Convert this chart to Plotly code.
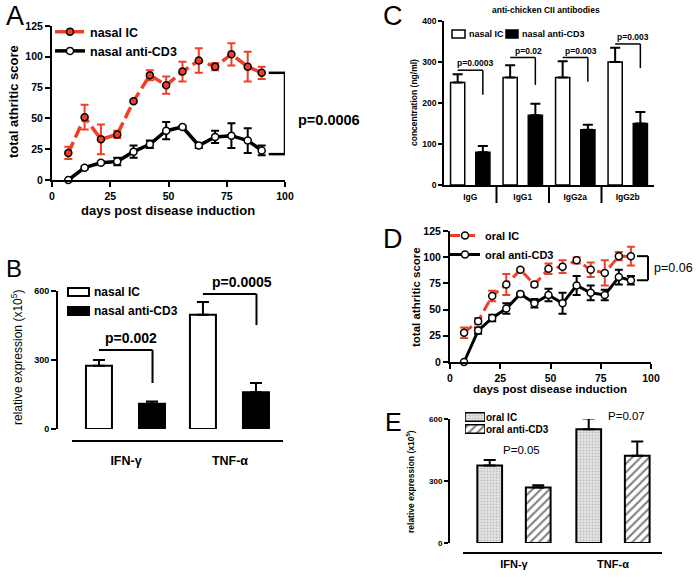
import plotly.graph_objects as go

W, H = 698, 577
FONT = "Arial, Liberation Sans, sans-serif"
RED = "#ee4028"

# A: nasal treatment, arthritis score
days = [7, 14, 21, 28, 35, 42, 49, 56, 63, 70, 77, 84, 90]
nasal_ic = [22, 51, 33, 37, 64, 85, 77, 88, 97, 92, 102, 92, 87]
nasal_ic_err = [5, 10, 12, 3, 1, 4, 7, 8, 10, 3, 9, 12, 5]
nasal_cd3 = [0, 10, 14, 15, 23, 29, 40, 43, 28, 35, 36, 32, 24]
nasal_cd3_err = [0, 1, 1, 3, 5, 3, 7, 1, 2, 5, 10, 10, 4]

# B: nasal, cytokine expression
cytokines = ["IFN-γ", "TNF-α"]
b_names = ["nasal IC", "nasal anti-CD3"]
b_ic = [275, 497]
b_ic_err = [25, 55]
b_cd3 = [110, 160]
b_cd3_err = [10, 40]
b_pvals = ["p=0.002", "p=0.0005"]
b_top = [343, 587]
b_bottom = [200, 452]

# C: anti-chicken CII antibodies
isotypes = ["IgG", "IgG1", "IgG2a", "IgG2b"]
c_ic = [250, 262, 262, 300]
c_ic_err = [20, 30, 40, 35]
c_cd3 = [80, 170, 135, 150]
c_cd3_err = [15, 28, 12, 28]
c_pvals = ["p=0.0003", "p=0.02", "p=0.003", "p=0.003"]
c_top = [280, 311, 311, 344]
c_bottom = [220, 244, 252, 285]

# D: oral treatment, arthritis score
oral_ic = [28, 39, 63, 74, 88, 74, 89, 91, 97, 88, 85, 101, 101]
oral_ic_err = [5, 3, 5, 10, 1, 2, 5, 6, 3, 7, 12, 4, 9]
oral_cd3 = [0, 30, 42, 51, 65, 56, 64, 56, 73, 66, 64, 81, 78]
oral_cd3_err = [0, 3, 3, 5, 1, 4, 6, 10, 9, 7, 5, 7, 4]

# E: oral, cytokine expression
e_names = ["oral IC", "oral anti-CD3"]
e_ic = [375, 551]
e_ic_err = [27, 51]
e_cd3 = [268, 422]
e_cd3_err = [12, 69]
e_pvals = ["P=0.05", "P=0.07"]


def fx(p):
    return p / W


def fy(p):
    return 1 - p / H


def f(size, bold=True):
    return dict(family=FONT, size=size, color="black", weight="bold" if bold else "normal")


def ax(size, **kw):
    d = dict(showline=True, linecolor="black", linewidth=2, ticks="outside", ticklen=5,
             tickwidth=2, tickcolor="black", showgrid=False, zeroline=False,
             tickfont=f(size), fixedrange=True)
    d.update(kw)
    return d


def err(a, color, up_only=False, w=4):
    e = dict(type="data", array=a, color=color, thickness=2, width=w, visible=True)
    if up_only:
        e.update(symmetric=False, arrayminus=[0] * len(a))
    return e


IC_PATTERN = dict(shape=".", fgcolor="#9a9a9a", bgcolor="#e4e4e4", size=3, solidity=0.3)
CD3_PATTERN = dict(shape="/", fgcolor="black", bgcolor="white", size=6, solidity=0.35)

fig = go.Figure()

# ---- A
fig.add_trace(go.Scatter(x=days, y=nasal_ic, name="nasal IC", mode="lines+markers",
                         line=dict(color=RED, width=3.5, dash="12px,5px"),
                         marker=dict(size=7, color=RED, line=dict(color="black", width=1.5)),
                         error_y=err(nasal_ic_err, RED), cliponaxis=False,
                         xaxis="x", yaxis="y", legend="legend"))
fig.add_trace(go.Scatter(x=days, y=nasal_cd3, name="nasal anti-CD3", mode="lines+markers",
                         line=dict(color="black", width=3.5),
                         marker=dict(size=7, color="white", line=dict(color="black", width=1.5)),
                         error_y=err(nasal_cd3_err, "black"), cliponaxis=False,
                         xaxis="x", yaxis="y", legend="legend"))

# ---- B
fig.add_trace(go.Bar(x=cytokines, y=b_ic, name=b_names[0], width=0.25, offset=-0.385,
                     marker=dict(color="white", line=dict(color="black", width=2)),
                     error_y=err(b_ic_err, "black", True, 6), xaxis="x2", yaxis="y2", showlegend=False))
fig.add_trace(go.Bar(x=cytokines, y=b_cd3, name=b_names[1], width=0.25, offset=0.125,
                     marker=dict(color="black", line=dict(color="black", width=2)),
                     error_y=err(b_cd3_err, "black", True, 6), xaxis="x2", yaxis="y2", showlegend=False))

# ---- C
cx = list(range(len(isotypes)))
fig.add_trace(go.Bar(x=cx, y=c_ic, name=b_names[0], width=0.27, offset=-0.375,
                     marker=dict(color="white", line=dict(color="black", width=1.5)),
                     error_y=err(c_ic_err, "black", True, 5), xaxis="x3", yaxis="y3", showlegend=False))
fig.add_trace(go.Bar(x=cx, y=c_cd3, name=b_names[1], width=0.27, offset=0.105,
                     marker=dict(color="black", line=dict(color="black", width=1.5)),
                     error_y=err(c_cd3_err, "black", True, 5), xaxis="x3", yaxis="y3", showlegend=False))

# ---- D
fig.add_trace(go.Scatter(x=days, y=oral_ic, name="oral IC", mode="lines+markers",
                         line=dict(color=RED, width=3, dash="10px,5px"),
                         marker=dict(size=7, color="white", line=dict(color="black", width=1.5)),
                         error_y=err(oral_ic_err, RED), cliponaxis=False,
                         xaxis="x4", yaxis="y4", legend="legend2"))
fig.add_trace(go.Scatter(x=days, y=oral_cd3, name="oral anti-CD3", mode="lines+markers",
                         line=dict(color="black", width=3),
                         marker=dict(size=7, color="white", line=dict(color="black", width=1.5)),
                         error_y=err(oral_cd3_err, "black"), cliponaxis=False,
                         xaxis="x4", yaxis="y4", legend="legend2"))

# ---- E
fig.add_trace(go.Bar(x=cytokines, y=e_ic, name=e_names[0], width=0.25, offset=-0.37,
                     marker=dict(color="#dcdcdc", line=dict(color="black", width=2), pattern=IC_PATTERN),
                     error_y=err(e_ic_err, "black", True, 6), xaxis="x5", yaxis="y5", showlegend=False))
fig.add_trace(go.Bar(x=cytokines, y=e_cd3, name=e_names[1], width=0.25, offset=0.12,
                     marker=dict(color="white", line=dict(color="black", width=2), pattern=CD3_PATTERN),
                     error_y=err(e_cd3_err, "black", True, 6), xaxis="x5", yaxis="y5", showlegend=False))

# E key: small patterned boxes, labels are the tick labels of a tiny axis
for name, pat, col in zip(e_names, [IC_PATTERN, CD3_PATTERN], ["#dcdcdc", "white"]):
    fig.add_trace(go.Bar(x=[1], y=[name], orientation="h", width=0.72, showlegend=False,
                         marker=dict(color=col, line=dict(color="black", width=1.5), pattern=pat),
                         hoverinfo="skip", xaxis="x6", yaxis="y6"))

shapes = []
ann = []


def line(xref, yref, x0, y0, x1, y1, w=2):
    shapes.append(dict(type="line", xref=xref, yref=yref, x0=x0, y0=y0, x1=x1, y1=y1,
                       line=dict(color="black", width=w)))


def box(x0, y0, x1, y1, fill, w=1.5):
    shapes.append(dict(type="rect", xref="paper", yref="paper", x0=fx(x0), y0=fy(y0),
                       x1=fx(x1), y1=fy(y1), fillcolor=fill, line=dict(color="black", width=w)))


def text(t, x, y, size, bold=True, xref="paper", yref="paper", angle=0, xanchor="center"):
    if xref == "paper":
        x, y = fx(x), fy(y)
    ann.append(dict(text=t, x=x, y=y, xref=xref, yref=yref, showarrow=False, textangle=angle,
                    xanchor=xanchor, yanchor="middle", font=f(size, bold)))


# A bracket + texts
line("x", "y", 93, nasal_ic[-1], 100, nasal_ic[-1], 2.5)
line("x", "y", 93, nasal_cd3[-1] - 3, 100, nasal_cd3[-1] - 3, 2.5)
line("x", "y", 100, nasal_ic[-1], 100, nasal_cd3[-1] - 3, 2.5)
text("p=0.0006", 296, 120, 14.5, xanchor="left")
text("total athritic score", 13, 102, 13, angle=-90)
text("days post disease induction", 168, 210, 13)
text("A", 15, 16, 27, False)

# B brackets + texts + key
for i in range(len(cytokines)):
    line("x2", "y2", i - 0.26, b_top[i], i + 0.255, b_top[i])
    line("x2", "y2", i + 0.255, b_top[i], i + 0.255, b_bottom[i])
text(b_pvals[0], 131, 338, 14)
text(b_pvals[1], 242, 282, 14)
line("paper", "paper", fx(72), fy(441), fx(283), fy(441), 2)
text("relative expression (x10<sup>5</sup>)", 17, 358, 12, False, angle=-90)
text("B", 14, 268, 24, False)
box(68, 288, 89, 296, "white", 2)
box(68, 307, 89, 315, "black", 2)
text(b_names[0], 92, 292, 12, xanchor="left")
text(b_names[1], 92, 311, 12, xanchor="left")

# C brackets + texts + key
for i in range(len(isotypes)):
    line("x3", "y3", i - 0.24, c_top[i], i + 0.24, c_top[i], 1.5)
    line("x3", "y3", i + 0.24, c_top[i], i + 0.24, c_bottom[i], 1.5)
    text(c_pvals[i], i + 0.1, c_top[i] + 17, 8.5, xref="x3", yref="y3")
for i in range(1, len(isotypes)):
    line("x3", "paper", i - 0.5, fy(185), i - 0.5, fy(203), 2)
text("anti-chicken CII antibodies", 546, 10, 8.5)
text("concentration (ng/ml)", 414, 103, 8.5, angle=-90)
text("C", 393, 16, 27, False)
box(452, 30, 465, 38, "white", 1.5)
box(506, 30, 518, 38, "black", 1.5)
text(b_names[0], 467, 34, 9, xanchor="left")
text(b_names[1], 520, 34, 9, xanchor="left")

# D bracket + texts
line("x4", "y4", 93, oral_ic[-1], 98.5, oral_ic[-1], 2)
line("x4", "y4", 93, oral_cd3[-1], 98.5, oral_cd3[-1], 2)
line("x4", "y4", 98.5, oral_ic[-1], 98.5, oral_cd3[-1], 2)
text("p=0.06", 652, 268, 12.5, False, xanchor="left")
text("total athritic score", 416, 297, 11.5, angle=-90)
text("days post disease induction", 550, 389, 11.5)
text("D", 393, 239, 27, False)

# E texts
text(e_pvals[0], 521, 450, 11.5, False)
text(e_pvals[1], 626, 416, 11.5, False)
line("paper", "paper", fx(463), fy(553), fx(662), fy(553), 2)
text("relative expression (x10<sup>5</sup>)", 411, 482, 8.5, angle=-90)
text("E", 393, 422, 25, False)

leg = dict(xanchor="left", yanchor="top", bgcolor="rgba(0,0,0,0)", itemwidth=30,
           tracegroupgap=0, traceorder="normal")

fig.update_layout(
    width=W, height=H, margin=dict(l=0, r=0, t=0, b=0, autoexpand=False),
    paper_bgcolor="white", plot_bgcolor="white", barmode="overlay",
    font=dict(family=FONT, color="black"),
    shapes=shapes, annotations=ann,
    xaxis=ax(10.5, domain=[fx(52), fx(285)], range=[0, 100], tickvals=[0, 25, 50, 75, 100], anchor="y"),
    yaxis=ax(10.5, domain=[fy(180), fy(26)], range=[0, 125], tickvals=[0, 25, 50, 75, 100, 125], anchor="x"),
    xaxis2=dict(domain=[fx(58), fx(283)], range=[-0.654, 1.51], anchor="y2", showline=False,
                showgrid=False, zeroline=False, ticks="outside", ticklen=20,
                tickcolor="rgba(0,0,0,0)", tickfont=f(12.5), type="category", automargin=False),
    yaxis2=ax(9, domain=[fy(429), fy(291)], range=[0, 600], tickvals=[0, 300, 600], anchor="x2"),
    xaxis3=ax(8.5, domain=[fx(444), fx(654)], range=[-0.5, 3.5], tickvals=cx, ticktext=isotypes,
              ticklen=3, tickcolor="rgba(0,0,0,0)", linewidth=1.5, anchor="y3"),
    yaxis3=ax(8.5, domain=[fy(185), fy(21)], range=[0, 400], tickvals=[0, 100, 200, 300, 400],
              linewidth=1.5, ticklen=4, anchor="x3"),
    xaxis4=ax(10.5, domain=[fx(450), fx(651)], range=[0, 100], tickvals=[0, 25, 50, 75, 100], anchor="y4"),
    yaxis4=ax(10.5, domain=[fy(362), fy(231)], range=[0, 125], tickvals=[0, 25, 50, 75, 100, 125], anchor="x4"),
    xaxis5=dict(domain=[fx(450), fx(662)], range=[-0.646, 1.495], anchor="y5", showline=False,
                showgrid=False, zeroline=False, ticks="outside", ticklen=11,
                tickcolor="rgba(0,0,0,0)", tickfont=f(11), type="category", automargin=False),
    yaxis5=ax(8, domain=[fy(543), fy(419)], range=[0, 600], tickvals=[0, 300, 600], ticklen=4, anchor="x5"),
    xaxis6=dict(domain=[fx(465), fx(485)], range=[0, 1], visible=False, fixedrange=True, anchor="y6"),
    yaxis6=dict(domain=[fy(435), fy(411)], anchor="x6", side="right", showline=False, showgrid=False,
                zeroline=False, ticks="", tickfont=f(10), type="category", autorange="reversed",
                tickmode="array", tickvals=e_names, fixedrange=True, automargin=False),
    legend=dict(leg, x=fx(50), y=fy(17), font=f(12.5)),
    legend2=dict(leg, x=fx(445), y=fy(221), font=f(11)),
)

# the page body has an 8px default margin; drop it so the figure sits at the window corner
fig.write_html("out.html", config={"displayModeBar": False},
               post_script="document.body.style.margin='0';")
